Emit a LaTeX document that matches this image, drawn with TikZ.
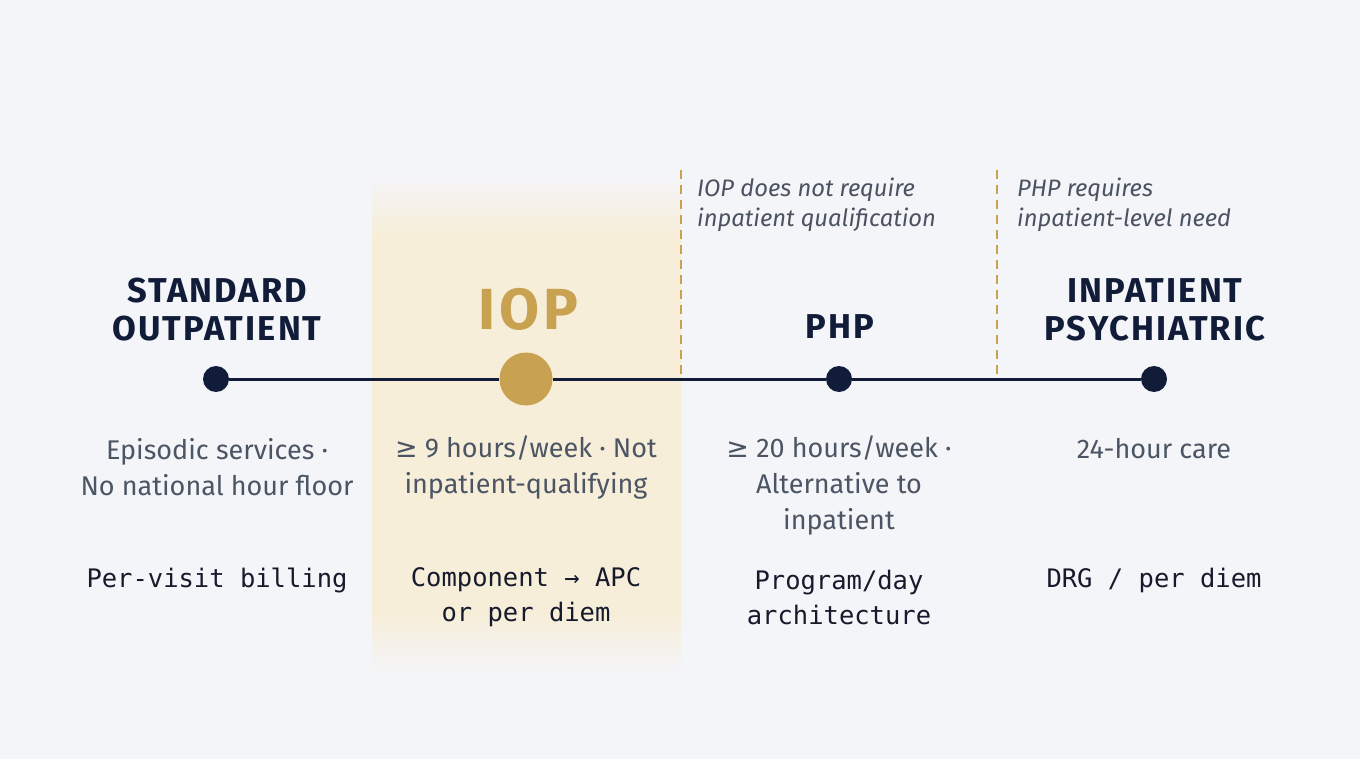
\documentclass[tikz,border=0pt]{standalone}
\usepackage{fontspec}
\setmainfont{Fira Sans}
\newfontfamily\monof{DejaVu Sans Mono}
\newfontfamily\symf{DejaVu Sans}
\newfontfamily\headf[LetterSpace=6]{Fira Sans Bold}
\newfontfamily\iopf[LetterSpace=7]{Fira Sans Bold}
\definecolor{bg}{HTML}{F4F5F9}
\definecolor{cream}{HTML}{F7EEDA}
\definecolor{gold}{HTML}{C8A251}
\definecolor{navy}{HTML}{111D38}
\definecolor{bodygray}{HTML}{4B5563}
\definecolor{monoc}{HTML}{161B2B}
\definecolor{notec}{HTML}{4B5260}
\pgfdeclareverticalshading{band}{100bp}{color(0bp)=(bg); color(25bp)=(bg); color(31bp)=(cream); color(69bp)=(cream); color(75bp)=(bg); color(100bp)=(bg)}
\begin{document}
\begin{tikzpicture}[x=1pt,y=-1pt,
  head/.style={font=\headf\fontsize{34.5}{38}\selectfont, text=navy, align=center, inner sep=0},
  body/.style={font=\fontsize{27}{36}\selectfont, text=bodygray, align=center, inner sep=0},
  mono/.style={font=\monof\fontsize{25.5}{35}\selectfont, text=monoc, align=center, inner sep=0},
  note/.style={font=\fontsize{23.8}{30}\selectfont\itshape, text=notec, align=left, anchor=west, inner sep=0},
  dot/.style={circle, fill=navy, minimum size=26pt, inner sep=0},
  divider/.style={gold, line width=2.3pt, dash pattern=on 9pt off 6pt}]
\useasboundingbox (0,0) rectangle (1360,759);
\fill[bg] (0,0) rectangle (1360,759);
\shade[shading=band] (372,175) rectangle (681,675);
% dividers
\coordinate (d1t) at (681,170);
\coordinate (d1b) at (681,378);
\coordinate (d2t) at (997,170);
\coordinate (d2b) at (997,378);
\draw[divider] (d1t) -- (d1b);
\draw[divider] (d2t) -- (d2b);
% timeline
\node[dot] (so) at (216,379) {};
\node[circle, fill=gold, minimum size=53pt, inner sep=0] (iop) at (526,379) {};
\node[dot] (php) at (839,379) {};
\node[dot] (ip) at (1154,379) {};
\draw[navy, line width=3pt] (so) -- (iop) -- (php) -- (ip);
% headings
\node[head] (h1) at (217,310) {STANDARD\\OUTPATIENT};
\node[head, font=\iopf\fontsize{58}{60}\selectfont, text=gold] (h2) at (528,309) {IOP};
\node[head] (h3) at (840,327) {PHP};
\node[head] (h4) at (1155,310) {INPATIENT\\PSYCHIATRIC};
% notes
\node[note] (n1) at (697,205) {IOP does not require\\inpatient qualification};
\node[note] (n2) at (1017,205) {PHP requires\\inpatient-level need};
% body
\node[body] (b1) at (217,467) {Episodic services ·\\No national hour floor};
\node[body] (b2) at (526,467) {{\symf ≥} 9 hours/week · Not\\inpatient-qualifying};
\node[body] (b3) at (839,485) {{\symf ≥} 20 hours/week ·\\Alternative to\\inpatient};
\node[body] (b4) at (1154,449) {24-hour care};
% mono
\node[mono] (m1) at (217,580) {Per-visit billing};
\node[mono] (m2) at (526,597) {Component → APC\\or per diem};
\node[mono] (m3) at (839,597) {Program/day\\architecture};
\node[mono] (m4) at (1154,580) {DRG / per diem};
\end{tikzpicture}
\end{document}
